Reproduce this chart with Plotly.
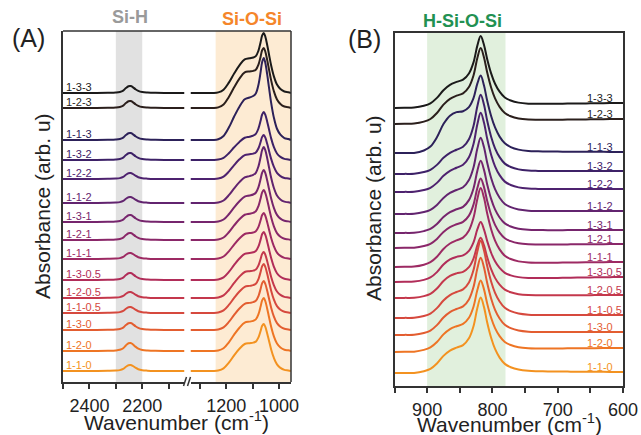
import numpy as np
import plotly.graph_objects as go

W, H = 641, 435

labels = ["1-3-3", "1-2-3", "1-1-3", "1-3-2", "1-2-2", "1-1-2", "1-3-1", "1-2-1",
          "1-1-1", "1-3-0.5", "1-2-0.5", "1-1-0.5", "1-3-0", "1-2-0", "1-1-0"]
colors = ["#1b1a1a", "#2b1f1c", "#2c2159", "#3d2167", "#4e226f", "#62246f", "#76256d",
          "#8a2769", "#9d2a63", "#b12d59", "#c4384c", "#d6493e", "#e35d30", "#ee7524", "#f39220"]

# ---- panel A: Si-H region (left segment) ----
sih_x = [2500, 2440, 2380, 2330, 2300, 2285, 2272, 2262, 2252, 2244, 2236, 2226, 2215,
         2200, 2180, 2150, 2100, 2040]
sih_shape = [0, 0, 0.01, 0.03, 0.07, 0.15, 0.35, 0.7, 0.97, 1.0, 0.85, 0.55, 0.3,
             0.13, 0.06, 0.02, 0.01, 0]

# ---- panel A: Si-O-Si region (right segment) ----
sios_x = [1335, 1290, 1250, 1230, 1210, 1190, 1170, 1150, 1130, 1112, 1098, 1088, 1078,
          1070, 1064, 1058, 1052, 1045, 1038, 1030, 1020, 1008, 995, 980, 965, 955]
sios_peak = [0, 0, 0, 0, 0.005, 0.01, 0.02, 0.03, 0.06, 0.1, 0.16, 0.25, 0.45,
             0.7, 0.9, 1.0, 0.95, 0.8, 0.62, 0.42, 0.24, 0.11, 0.05, 0.02, 0.01, 0]
sios_shoulder = [0, 0, 0, 0.02, 0.1, 0.32, 0.6, 0.85, 1.0, 0.98, 0.92, 0.84, 0.74,
                 0.66, 0.6, 0.54, 0.49, 0.43, 0.37, 0.3, 0.21, 0.12, 0.06, 0.02, 0.01, 0]

base_a = [2.89, 2.74, 2.42, 2.22, 2.03, 1.79, 1.60, 1.42, 1.23, 1.02, 0.84, 0.69, 0.52, 0.31, 0.11]
sih_height = [0.07, 0.07, 0.07, 0.07, 0.06, 0.06, 0.07, 0.07, 0.06, 0.07, 0.06, 0.06, 0.07, 0.08, 0.06]
sios_height = [0.60, 0.60, 0.82, 0.48, 0.44, 0.56, 0.52, 0.50, 0.46, 0.48, 0.46, 0.49, 0.49, 0.53, 0.47]
sios_shoulder_height = [0.31, 0.33, 0.37, 0.20, 0.22, 0.23, 0.23, 0.23, 0.23, 0.24, 0.24, 0.24,
                        0.24, 0.26, 0.25]

# ---- panel B: H-Si-O-Si region ----
hsios_x = [950, 935, 920, 905, 895, 885, 875, 865, 855, 845, 836, 829, 823, 818, 813, 808,
           802, 796, 789, 781, 772, 760, 745, 730, 715, 700, 685, 670, 650, 630, 615, 600]
hsios_peak = [0, 0, 0, 0.01, 0.015, 0.02, 0.03, 0.05, 0.08, 0.14, 0.28, 0.5, 0.82, 1.0, 0.88,
              0.66, 0.45, 0.3, 0.19, 0.11, 0.07, 0.04, 0.025, 0.018, 0.014, 0.012, 0.01,
              0.008, 0.006, 0.004, 0.002, 0]
hsios_shoulder = [0, 0, 0, 0.05, 0.15, 0.4, 0.75, 0.95, 1.0, 0.93, 0.82, 0.72, 0.62, 0.55,
                  0.47, 0.39, 0.3, 0.22, 0.14, 0.08, 0.04, 0.015, 0, 0, 0, 0, 0, 0, 0, 0, 0, 0]
hsios_tilt = [0, 0.04, 0.09, 0.13, 0.16, 0.19, 0.21, 0.24, 0.27, 0.3, 0.33, 0.35, 0.37, 0.38,
              0.39, 0.41, 0.42, 0.44, 0.46, 0.48, 0.51, 0.54, 0.58, 0.63, 0.67, 0.71, 0.76,
              0.8, 0.86, 0.91, 0.96, 1.0]

base_b_left = [2.78, 2.62, 2.33, 2.12, 1.94, 1.72, 1.53, 1.38, 1.19, 1.04, 0.88, 0.68, 0.51, 0.34, 0.13]
base_b_right = [2.83, 2.67, 2.34, 2.15, 1.97, 1.75, 1.56, 1.42, 1.24, 1.09, 0.91, 0.71, 0.54, 0.38, 0.14]
hsios_height = [0.70, 0.74, 0.77, 0.78, 0.78, 0.75, 0.71, 0.68, 0.77, 0.58, 0.59, 0.76, 0.76, 0.70, 0.75]
hsios_shoulder_height = [0.20, 0.22, 0.36, 0.18, 0.18, 0.18, 0.18, 0.18, 0.20, 0.20, 0.20, 0.20,
                         0.20, 0.20, 0.20]


def px(x):
    return x / W


def py(y):
    return 1 - y / H


fig = go.Figure()

for i, name in enumerate(labels):
    line = dict(color=colors[i], width=2, shape="spline", smoothing=1.0)
    y_sih = base_a[i] + sih_height[i] * np.array(sih_shape)
    fig.add_trace(go.Scatter(x=sih_x, y=y_sih, xaxis="x", yaxis="y", mode="lines",
                             line=line, showlegend=False, name=name))

    hp = sios_height[i] - 0.54 * sios_shoulder_height[i]
    y_sios = (base_a[i] + hp * np.array(sios_peak)
              + sios_shoulder_height[i] * np.array(sios_shoulder))
    fig.add_trace(go.Scatter(x=sios_x, y=y_sios, xaxis="x2", yaxis="y", mode="lines",
                             line=line, showlegend=False, name=name))

    hpb = hsios_height[i] - 0.55 * hsios_shoulder_height[i]
    y_b = (base_b_left[i] + (base_b_right[i] - base_b_left[i]) * np.array(hsios_tilt)
           + hpb * np.array(hsios_peak) + hsios_shoulder_height[i] * np.array(hsios_shoulder))
    fig.add_trace(go.Scatter(x=hsios_x, y=y_b, xaxis="x3", yaxis="y2", mode="lines",
                             line=line, showlegend=False, name=name))

    # labels
    fig.add_annotation(x=2500, y=base_a[i], xref="x", yref="y", text=name, showarrow=False,
                       xanchor="left", yanchor="middle", yshift=6, xshift=1,
                       font=dict(size=11, color=colors[i]))
    fig.add_annotation(x=658, y=base_b_right[i] - 0.01, xref="x3", yref="y2", text=name,
                       showarrow=False, xanchor="left", yanchor="middle", yshift=6,
                       font=dict(size=11, color=colors[i]))

axis_line = dict(showline=True, linecolor="#333", linewidth=1.5, showgrid=False, zeroline=False,
                 automargin=False)
xtick = dict(ticks="outside", ticklen=5, tickwidth=1.5, tickcolor="#333", tickangle=0,
             ticklabelstandoff=2, tickfont=dict(size=18, color="#222"))

fig.update_layout(
    width=W, height=H, autosize=False,
    margin=dict(l=0, r=0, t=0, b=0),
    paper_bgcolor="white", plot_bgcolor="rgba(0,0,0,0)",
    font=dict(family="Liberation Sans, Arial, sans-serif", color="#222"),
    xaxis=dict(domain=[px(63), px(184.5)], range=[2500, 2040], anchor="y",
               tickvals=[2500, 2400, 2300, 2200, 2100], ticktext=["", "2400", "", "2200", ""],
               **axis_line, **xtick),
    xaxis2=dict(domain=[px(190.5), px(291)], range=[1335, 955], anchor="y",
                tickvals=[1300, 1200, 1100, 1000], ticktext=["", "1200", "", "1000"],
                **axis_line, **xtick),
    yaxis=dict(domain=[py(382), py(31)], range=[0, 3.51], anchor="x",
               showticklabels=False, ticks="", **axis_line),
    xaxis3=dict(domain=[px(394.5), px(623)], range=[950, 600], anchor="y2", mirror=True,
                tickvals=[950, 900, 850, 800, 750, 700, 650, 600],
                ticktext=["", "900", "", "800", "", "700", "", "600"],
                **axis_line, **xtick),
    yaxis2=dict(domain=[py(386), py(33)], range=[0, 3.53], anchor="x3", mirror=True,
                showticklabels=False, ticks="", **axis_line),
)

# highlighted bands
fig.add_shape(type="rect", xref="x", yref="y domain", x0=2300, x1=2200, y0=0, y1=1,
              fillcolor="#e1e1e1", line_width=0, layer="below")
fig.add_shape(type="rect", xref="x2", yref="y domain", x0=1240, x1=955, y0=0, y1=1,
              fillcolor="#fdebd3", line_width=0, layer="below")
fig.add_shape(type="rect", xref="x3", yref="y2 domain", x0=900, x1=780, y0=0, y1=1,
              fillcolor="#e1f0dd", line_width=0, layer="below")

# frame of panel A (top + right) and axis break marks
frame = dict(color="#333", width=1.5)
fig.add_shape(type="line", xref="paper", yref="paper", x0=px(63), x1=px(291),
              y0=py(31), y1=py(31), line=frame)
fig.add_shape(type="line", xref="paper", yref="paper", x0=px(291), x1=px(291),
              y0=py(382), y1=py(31), line=frame)
for xb in (183.5, 187.5):
    fig.add_shape(type="line", xref="paper", yref="paper", x0=px(xb), x1=px(xb + 3),
                  y0=py(386), y1=py(377), line=frame)

# titles
titles = [
    dict(text="(A)", x=28, y=38, size=25, color="#222", bold=False),
    dict(text="(B)", x=364, y=39, size=25, color="#222", bold=False),
    dict(text="Si-H", x=130, y=17, size=18, color="#9a9a9a", bold=True),
    dict(text="Si-O-Si", x=252, y=19, size=18, color="#f5862a", bold=True),
    dict(text="H-Si-O-Si", x=463, y=21, size=18, color="#229152", bold=True),
    dict(text="Wavenumber (cm<sup>-1</sup>)", x=177, y=421, size=21, color="#222", bold=False),
    dict(text="Wavenumber (cm<sup>-1</sup>)", x=509, y=423, size=21, color="#222", bold=False),
]
for t in titles:
    txt = "<b>%s</b>" % t["text"] if t["bold"] else t["text"]
    fig.add_annotation(x=px(t["x"]), y=py(t["y"]), xref="paper", yref="paper", text=txt,
                       showarrow=False, xanchor="center", yanchor="middle",
                       font=dict(size=t["size"], color=t["color"]))

for xa, ya in ((42, 206), (373, 208)):
    fig.add_annotation(x=px(xa), y=py(ya), xref="paper", yref="paper",
                       text="Absorbance (arb. u)", textangle=-90, showarrow=False,
                       xanchor="center", yanchor="middle", font=dict(size=21, color="#222"))

fig.write_html(
    "out.html",
    config={"displayModeBar": False},
    post_script="document.body.style.margin='0';document.body.style.overflow='hidden';",
)
